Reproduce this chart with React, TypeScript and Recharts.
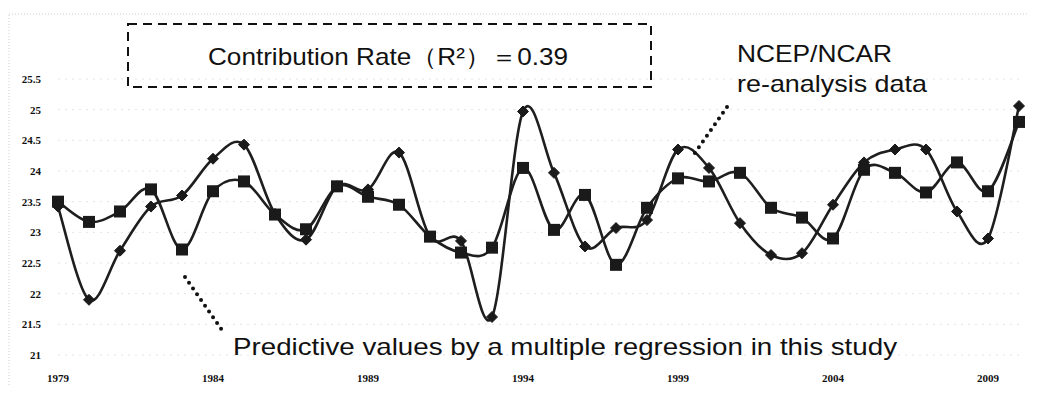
import React from "react";
import { LineChart, Line, XAxis, YAxis, CartesianGrid } from "recharts";

const years = [1979,1980,1981,1982,1983,1984,1985,1986,1987,1988,1989,1990,1991,1992,1993,1994,1995,1996,1997,1998,1999,2000,2001,2002,2003,2004,2005,2006,2007,2008,2009,2010];
const ncepValues = [23.42,21.9,22.7,23.42,23.6,24.2,24.43,23.3,22.88,23.75,23.7,24.3,22.93,22.86,21.62,24.97,23.97,22.77,23.07,23.2,24.35,24.05,23.15,22.63,22.66,23.45,24.14,24.35,24.35,23.34,22.9,25.06];
const predictedValues = [23.5,23.17,23.34,23.7,22.72,23.67,23.83,23.29,23.05,23.75,23.58,23.45,22.93,22.67,22.75,24.05,23.04,23.61,22.47,23.4,23.88,23.83,23.97,23.4,23.24,22.9,24.02,23.97,23.65,24.14,23.67,24.8];
const xTicks = [1979,1984,1989,1994,1999,2004,2009];
const yTicks = [21,21.5,22,22.5,23,23.5,24,24.5,25,25.5];
const yTickLabels = ["21","21.5","22","22.5","23","23.5","24","24.5","25","25.5"];

const boxText = "Contribution Rate（R²）＝0.39";
const ncepLabel1 = "NCEP/NCAR";
const ncepLabel2 = "re-analysis data";
const predLabel = "Predictive values by a multiple regression in this study";

const data = years.map((y, i) => ({ year: y, ncep: ncepValues[i], pred: predictedValues[i] }));

// Excel-like smoothed line (Catmull-Rom style bezier)
const smoothCurve: any = (context: any) => {
  let pts: number[][] = [];
  return {
    areaStart() {},
    areaEnd() {},
    lineStart() { pts = []; },
    point(x: number, y: number) { pts.push([+x, +y]); },
    lineEnd() {
      const n = pts.length;
      if (!n) return;
      context.moveTo(pts[0][0], pts[0][1]);
      for (let i = 0; i < n - 1; i++) {
        const p0 = pts[i - 1] || pts[i];
        const p1 = pts[i];
        const p2 = pts[i + 1];
        const p3 = pts[i + 2] || pts[i + 1];
        const c1x = p1[0] + (p2[0] - p0[0]) / 6;
        const c1y = p1[1] + (p2[1] - p0[1]) / 6;
        const c2x = p2[0] - (p3[0] - p1[0]) / 6;
        const c2y = p2[1] - (p3[1] - p1[1]) / 6;
        context.bezierCurveTo(c1x, c1y, c2x, c2y, p2[0], p2[1]);
      }
    },
  };
};

const DiamondDot = (props: any) => {
  const { cx, cy, index } = props;
  if (cx == null || cy == null) return <g key={index} />;
  const r = 5.5;
  return (
    <polygon key={index} points={`${cx},${cy - r} ${cx + r},${cy} ${cx},${cy + r} ${cx - r},${cy}`} fill="#1a1a1a" stroke="#1a1a1a" strokeWidth={1} />
  );
};

const SquareDot = (props: any) => {
  const { cx, cy, index } = props;
  if (cx == null || cy == null) return <g key={index} />;
  const s = 12;
  return <rect key={index} x={cx - s / 2} y={cy - s / 2} width={s} height={s} fill="#1a1a1a" />;
};

const serif = "'Liberation Serif', 'DejaVu Serif', serif";
const sans = "'Liberation Sans', Arial, sans-serif";

export default function App() {
  return (
    <div style={{ position: "relative", width: 1021, height: 379 }}>
      <LineChart width={1021} height={379} data={data} margin={{ top: 71, right: 10, left: 0, bottom: 0 }}>
        <CartesianGrid horizontal={true} vertical={false} stroke="#e4e4e4" strokeDasharray="2 5" />
        <XAxis
          dataKey="year"
          type="number"
          domain={[1979, 2010]}
          ticks={xTicks}
          tickFormatter={(v: number) => String(v)}
          axisLine={false}
          tickLine={false}
          tickSize={0}
          tickMargin={19}
          height={32}
          tick={{ fontFamily: serif, fontSize: 11, fill: "#111", fontWeight: "bold" }}
          interval={0}
        />
        <YAxis
          type="number"
          domain={[21, 25.5]}
          ticks={yTicks}
          tickFormatter={(v: number) => yTickLabels[yTicks.indexOf(v)] ?? String(v)}
          axisLine={false}
          tickLine={false}
          tickSize={0}
          tickMargin={17}
          width={50}
          tick={{ fontFamily: serif, fontSize: 11, fill: "#111", fontWeight: "bold" }}
          interval={0}
        />
        <Line dataKey="ncep" type={smoothCurve} stroke="#1e1e1e" strokeWidth={2.6} dot={DiamondDot} activeDot={false} isAnimationActive={false} />
        <Line dataKey="pred" type={smoothCurve} stroke="#1e1e1e" strokeWidth={2.6} dot={SquareDot} activeDot={false} isAnimationActive={false} />
      </LineChart>
      <svg
        width={1037}
        height={395}
        style={{ position: "absolute", left: -8, top: -8, pointerEvents: "none" }}
      >
        <rect x={9} y={14} width={1024} height={375} fill="none" stroke="#cfcfcf" strokeWidth={1} strokeDasharray="1 2" />
        <rect x={128} y={24} width={523} height={63} fill="none" stroke="#111" strokeWidth={2} strokeDasharray="9 6" />
        <text x={208} y={65} fontFamily={sans} fontSize={24} fill="#111" textLength={360} lengthAdjust="spacingAndGlyphs">{boxText}</text>
        <text x={737} y={62} fontFamily={sans} fontSize={24} fill="#111" textLength={155} lengthAdjust="spacingAndGlyphs">{ncepLabel1}</text>
        <text x={737} y={92} fontFamily={sans} fontSize={24} fill="#111" textLength={190} lengthAdjust="spacingAndGlyphs">{ncepLabel2}</text>
        <text x={233} y={355} fontFamily={sans} fontSize={24} fill="#111" textLength={664} lengthAdjust="spacingAndGlyphs">{predLabel}</text>
        <line x1={185} y1={277} x2={222} y2={330} stroke="#111" strokeWidth={4} strokeDasharray="0 7" strokeLinecap="round" />
        <line x1={727} y1={107} x2={692} y2={157} stroke="#111" strokeWidth={4} strokeDasharray="0 7" strokeLinecap="round" />
      </svg>
    </div>
  );
}
